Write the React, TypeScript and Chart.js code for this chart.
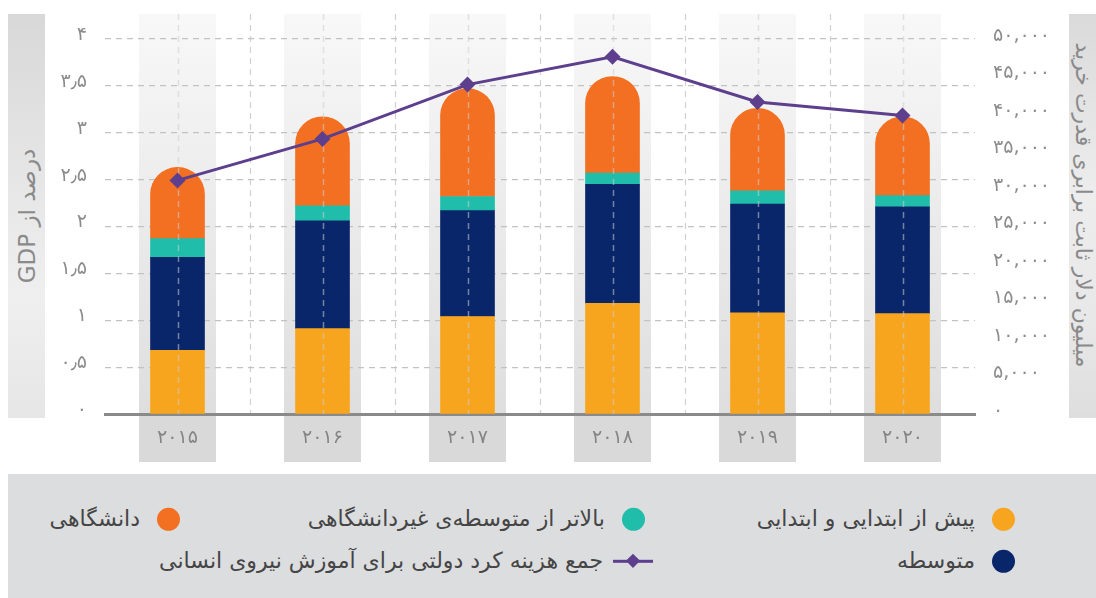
import React, { useEffect, useRef } from 'react';
import { Chart, registerables } from 'chart.js';

Chart.register(...registerables);

const years = ['۲۰۱۵', '۲۰۱۶', '۲۰۱۷', '۲۰۱۸', '۲۰۱۹', '۲۰۲۰'];
const preprimaryPrimary = [0.68, 0.91, 1.04, 1.18, 1.08, 1.07];
const secondary = [0.99, 1.15, 1.13, 1.27, 1.16, 1.14];
const postSecondaryNonTertiary = [0.2, 0.16, 0.15, 0.12, 0.14, 0.12];
const tertiary = [0.76, 0.95, 1.15, 1.03, 0.88, 0.84];
const totalSpending = [31150, 36680, 43920, 47620, 41610, 39790];

const leftTickLabels = ['۰', '۰٫۵', '۱', '۱٫۵', '۲', '۲٫۵', '۳', '۳٫۵', '۴'];
const rightTickLabels = ['۰', '۵,۰۰۰', '۱۰,۰۰۰', '۱۵,۰۰۰', '۲۰,۰۰۰', '۲۵,۰۰۰', '۳۰,۰۰۰', '۳۵,۰۰۰', '۴۰,۰۰۰', '۴۵,۰۰۰', '۵۰,۰۰۰'];

const seriesNames = [
  'پیش از ابتدایی و ابتدایی',
  'متوسطه',
  'بالاتر از متوسطه‌ی غیردانشگاهی',
  'دانشگاهی',
  'جمع هزینه کرد دولتی برای آموزش نیروی انسانی',
];
const leftTitle = 'درصد از GDP';
const rightTitle = 'میلیون دلار ثابت برابری قدرت خرید';

const YELLOW = '#F7A51F';
const NAVY = '#0A266B';
const TEAL = '#20BDAB';
const ORANGE = '#F37022';
const PURPLE = '#5D3F8D';
const FONT = "'DejaVu Sans', 'Noto Sans', sans-serif";

const BAND_TOP = 14;

const decorPlugin = {
  id: 'decor',
  beforeDraw(chart: any) {
    const { ctx, scales } = chart;
    const x = scales.x;
    const y = scales.y;
    const bottom = y.bottom;
    ctx.save();
    const grad = ctx.createLinearGradient(0, BAND_TOP, 0, bottom);
    grad.addColorStop(0, '#f8f8f8');
    grad.addColorStop(1, '#dedede');
    for (let i = 0; i < years.length; i++) {
      const cx = x.getPixelForValue(i);
      ctx.fillStyle = grad;
      ctx.fillRect(cx - 38.5, BAND_TOP, 77, bottom - BAND_TOP);
      ctx.fillStyle = '#d9d9d9';
      ctx.fillRect(cx - 38.5, bottom, 77, 48);
    }
    ctx.strokeStyle = '#d0d0d0';
    ctx.lineWidth = 1.2;
    ctx.setLineDash([6, 5]);
    for (let i = 0; i < years.length - 1; i++) {
      const bx = (x.getPixelForValue(i) + x.getPixelForValue(i + 1)) / 2;
      ctx.beginPath();
      ctx.moveTo(Math.round(bx) + 0.5, BAND_TOP);
      ctx.lineTo(Math.round(bx) + 0.5, bottom);
      ctx.stroke();
    }
    ctx.restore();
  },
  beforeDatasetDraw(chart: any, args: any) {
    if (args.meta.type !== 'line') return;
    const { ctx, scales } = chart;
    const x = scales.x;
    const bottom = scales.y.bottom;
    ctx.save();
    ctx.strokeStyle = 'rgba(205,205,205,0.55)';
    ctx.lineWidth = 1.5;
    ctx.setLineDash([6, 5]);
    for (let i = 0; i < years.length; i++) {
      const cx = Math.round(x.getPixelForValue(i)) + 0.5;
      ctx.beginPath();
      ctx.moveTo(cx, BAND_TOP);
      ctx.lineTo(cx, bottom);
      ctx.stroke();
    }
    ctx.restore();
  },
};

const legendItems = [
  { name: seriesNames[0], color: YELLOW, right: 81, top: 519, kind: 'dot' },
  { name: seriesNames[2], color: TEAL, right: 451, top: 519, kind: 'dot' },
  { name: seriesNames[3], color: ORANGE, right: 916, top: 519, kind: 'dot' },
  { name: seriesNames[1], color: NAVY, right: 81, top: 561, kind: 'dot' },
  { name: seriesNames[4], color: PURPLE, right: 443, top: 561, kind: 'line' },
];

export default function App() {
  const canvasRef = useRef<HTMLCanvasElement | null>(null);

  useEffect(() => {
    const canvas = canvasRef.current;
    if (!canvas) return;
    const tickFont = { family: FONT, size: 19 };
    const chart = new Chart(canvas, {
      type: 'bar',
      data: {
        labels: years,
        datasets: [
          {
            type: 'line',
            label: seriesNames[4],
            data: totalSpending,
            yAxisID: 'y2',
            borderColor: PURPLE,
            backgroundColor: PURPLE,
            borderWidth: 3,
            pointStyle: 'rectRot',
            pointRadius: 8,
            pointHoverRadius: 8,
            pointBackgroundColor: PURPLE,
            pointBorderColor: PURPLE,
            pointBorderWidth: 0,
            tension: 0,
            order: 0,
          } as any,
          { label: seriesNames[0], data: preprimaryPrimary, backgroundColor: YELLOW, yAxisID: 'y', order: 1, barThickness: 54 },
          { label: seriesNames[1], data: secondary, backgroundColor: NAVY, yAxisID: 'y', order: 1, barThickness: 54 },
          { label: seriesNames[2], data: postSecondaryNonTertiary, backgroundColor: TEAL, yAxisID: 'y', order: 1, barThickness: 54 },
          {
            label: seriesNames[3],
            data: tertiary,
            backgroundColor: ORANGE,
            yAxisID: 'y',
            order: 1,
            barThickness: 54,
            borderRadius: { topLeft: 27, topRight: 27, bottomLeft: 0, bottomRight: 0 },
          },
        ],
      },
      options: {
        responsive: false,
        animation: false,
        devicePixelRatio: 1,
        layout: { padding: { top: 39, left: 0, right: 0, bottom: 0 } },
        plugins: { legend: { display: false }, tooltip: { enabled: false } },
        scales: {
          x: {
            stacked: true,
            grid: { display: false, drawTicks: false },
            border: { display: true, color: '#8a8a8a', width: 3 },
            ticks: { color: '#858585', font: { family: FONT, size: 19 }, padding: 13 },
            afterFit: (s: any) => {
              s.height = 184;
            },
          },
          y: {
            stacked: true,
            position: 'left',
            min: 0,
            max: 4,
            ticks: {
              stepSize: 0.5,
              color: '#8c8c8c',
              font: tickFont,
              padding: 18,
              labelOffset: -4,
              callback: (_v: any, i: number) => leftTickLabels[i],
            },
            grid: { color: '#c2c2c2', lineWidth: 1.2, drawTicks: false },
            border: { display: false, dash: [6, 5] },
            afterFit: (s: any) => {
              s.width = 105;
            },
          },
          y2: {
            position: 'right',
            min: 0,
            max: 50000,
            ticks: {
              stepSize: 5000,
              color: '#8c8c8c',
              font: tickFont,
              padding: 18,
              labelOffset: -3,
              callback: (_v: any, i: number) => rightTickLabels[i],
            },
            grid: { display: false, drawTicks: false },
            border: { display: false },
            afterFit: (s: any) => {
              s.width = 121;
            },
          },
        },
      } as any,
      plugins: [decorPlugin],
    });
    return () => chart.destroy();
  }, []);

  const bandStyle = (left: number, width: number, grad: string): React.CSSProperties => ({
    position: 'absolute',
    left,
    top: 14,
    width,
    height: 404,
    background: grad,
  });

  const titleStyle = (cx: number, cy: number, rot: number, size: number): React.CSSProperties => ({
    position: 'absolute',
    left: cx,
    top: cy,
    transform: `translate(-50%, -50%) rotate(${rot}deg)`,
    whiteSpace: 'nowrap',
    direction: 'rtl',
    fontFamily: FONT,
    fontSize: size,
    color: '#8a8a8a',
    lineHeight: 1,
  });

  return (
    <div style={{ position: 'fixed', left: 0, top: 0, width: 1096, height: 598, overflow: 'hidden', background: '#fff' }}>
      <div style={bandStyle(8, 37, 'linear-gradient(to bottom, #d8d8d8 0%, #e4e4e4 35%, #efefef 70%, #e6e6e6 100%)')} />
      <div style={bandStyle(1069, 27, 'linear-gradient(to bottom, #dadada 0%, #ededed 45%, #e8e8e8 75%, #dedede 100%)')} />
      <div style={titleStyle(27, 216, -90, 23)}>{leftTitle}</div>
      <div style={titleStyle(1083, 205, 90, 22)}>{rightTitle}</div>
      <canvas ref={canvasRef} width={1096} height={598} style={{ position: 'absolute', left: 0, top: 0, width: 1096, height: 598 }} />
      <div style={{ position: 'absolute', left: 8, top: 474, width: 1088, height: 124, background: '#dcdddf' }} />
      {legendItems.map((it, i) => (
        <div
          key={i}
          style={{
            position: 'absolute',
            right: it.right,
            top: it.top,
            transform: 'translateY(-50%)',
            display: 'flex',
            flexDirection: 'row-reverse',
            alignItems: 'center',
            gap: it.kind === 'line' ? 10 : 17,
            whiteSpace: 'nowrap',
          }}
        >
          {it.kind === 'dot' ? (
            <span style={{ width: 23, height: 23, borderRadius: '50%', background: it.color, display: 'inline-block' }} />
          ) : (
            <span style={{ position: 'relative', width: 40, height: 14, display: 'inline-block' }}>
              <span style={{ position: 'absolute', left: 0, top: 5.5, width: 40, height: 3, background: it.color }} />
              <span
                style={{
                  position: 'absolute',
                  left: 15,
                  top: 2,
                  width: 10,
                  height: 10,
                  background: it.color,
                  transform: 'rotate(45deg)',
                }}
              />
            </span>
          )}
          <span style={{ direction: 'rtl', fontFamily: FONT, fontSize: 22, color: '#454545', lineHeight: 1.2 }}>{it.name}</span>
        </div>
      ))}
    </div>
  );
}
